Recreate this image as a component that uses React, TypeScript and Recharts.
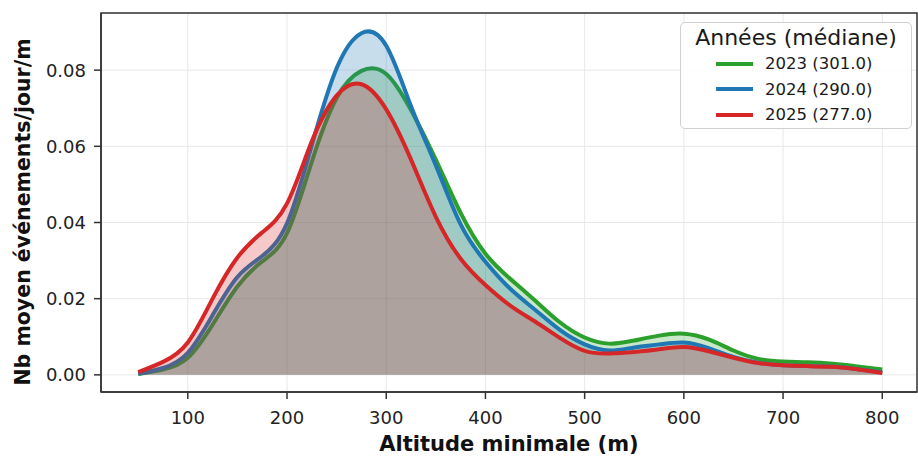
import { ComposedChart, Area, XAxis, YAxis, CartesianGrid, Legend, ReferenceArea, Label } from "recharts";

const ALTITUDES = [50, 75, 100, 125, 150, 175, 200, 225, 250, 275, 300, 325, 350, 375, 400, 425, 450, 475, 500, 525, 550, 575, 600, 625, 650, 675, 700, 725, 750, 775, 800];

const V2023 = [0.0002, 0.0014, 0.0045, 0.0132, 0.0232, 0.0298, 0.0372, 0.056, 0.0727, 0.0798, 0.079, 0.0695, 0.0565, 0.0425, 0.0318, 0.0252, 0.0195, 0.0138, 0.0098, 0.0082, 0.009, 0.0103, 0.0108, 0.0093, 0.0064, 0.0042, 0.0035, 0.0033, 0.0029, 0.0022, 0.0014];
const V2024 = [0.0003, 0.0018, 0.0058, 0.0157, 0.0257, 0.0312, 0.0398, 0.0603, 0.0805, 0.0897, 0.0864, 0.0705, 0.055, 0.0395, 0.0297, 0.0226, 0.0171, 0.0118, 0.008, 0.0064, 0.0072, 0.008, 0.0085, 0.007, 0.0047, 0.0032, 0.0025, 0.0023, 0.0021, 0.0015, 0.0007];
const V2025 = [0.0007, 0.0034, 0.0085, 0.02, 0.0308, 0.0374, 0.045, 0.0613, 0.0733, 0.0763, 0.0697, 0.0565, 0.0415, 0.0305, 0.0236, 0.0182, 0.014, 0.0097, 0.0063, 0.0056, 0.006, 0.0067, 0.0073, 0.0062, 0.0045, 0.0031, 0.0025, 0.0023, 0.0021, 0.0015, 0.0005];

const SERIES_NAMES = ["2023 (301.0)", "2024 (290.0)", "2025 (277.0)"];
const X_TICKS = [100, 200, 300, 400, 500, 600, 700, 800];
const Y_TICKS = [0, 0.02, 0.04, 0.06, 0.08];

const FONT = "'DejaVu Sans', sans-serif";
const X_DOMAIN: [number, number] = [12.5, 835];
const Y_DOMAIN: [number, number] = [-0.0045, 0.095];

const data = ALTITUDES.map((alt, i) => ({
  alt,
  y2023: V2023[i],
  y2024: V2024[i],
  y2025: V2025[i],
}));

function LegendBox({ payload }: any) {
  return (
    <div
      style={{
        border: "1px solid #d0d0d0",
        borderRadius: 5,
        background: "rgba(255,255,255,0.85)",
        fontFamily: FONT,
        color: "#1a1a1a",
      }}
    >
      <div style={{ height: 28, lineHeight: "30px", fontSize: 22, textAlign: "center", whiteSpace: "nowrap" }}>
        Années (médiane)
      </div>
      {(payload || []).map((p: any) => (
        <div key={p.value} style={{ height: 25.5, display: "flex", alignItems: "center" }}>
          <div style={{ width: 37, height: 4, background: p.color, marginLeft: 35 }} />
          <span style={{ fontSize: 16.5, marginLeft: 12, whiteSpace: "nowrap" }}>{p.value}</span>
        </div>
      ))}
    </div>
  );
}

export default function App() {
  return (
    <div style={{ position: "absolute", left: 0, top: 0, background: "#fff" }}>
      <ComposedChart width={918} height={457} data={data} margin={{ top: 13, right: 1, bottom: 0, left: 0 }}>
        <CartesianGrid stroke="#e8e8e8" strokeWidth={1} />
        <XAxis
          dataKey="alt"
          type="number"
          domain={X_DOMAIN}
          ticks={X_TICKS}
          allowDataOverflow
          height={65}
          tickSize={7}
          tickMargin={12}
          stroke="#333"
          strokeWidth={1.5}
          tick={{ fontSize: 18, fill: "#222", fontFamily: FONT }}
        >
          <Label
            content={({ viewBox }: any) => (
              <text
                x={viewBox.x + viewBox.width / 2}
                y={viewBox.y + 59}
                textAnchor="middle"
                fontFamily={FONT}
                fontWeight="bold"
                fontSize={21}
                fill="#111"
              >
                Altitude minimale (m)
              </text>
            )}
          />
        </XAxis>
        <YAxis
          type="number"
          domain={Y_DOMAIN}
          ticks={Y_TICKS}
          allowDataOverflow
          width={101}
          tickSize={7}
          tickMargin={8}
          stroke="#333"
          strokeWidth={1.5}
          tickFormatter={(v: number) => v.toFixed(2)}
          tick={{ fontSize: 18, fill: "#222", fontFamily: FONT }}
        >
          <Label
            content={() => (
              <text
                x={30}
                y={212}
                transform="rotate(-90 30 212)"
                textAnchor="middle"
                fontFamily={FONT}
                fontWeight="bold"
                fontSize={20.5}
                fill="#111"
              >
                Nb moyen événements/jour/m
              </text>
            )}
          />
        </YAxis>
        <Area
          type="natural"
          dataKey="y2023"
          name={SERIES_NAMES[0]}
          stroke="#2ca02c"
          strokeWidth={4}
          fill="#2ca02c"
          fillOpacity={0.25}
          baseValue={0}
          dot={false}
          activeDot={false}
          isAnimationActive={false}
        />
        <Area
          type="natural"
          dataKey="y2024"
          name={SERIES_NAMES[1]}
          stroke="#1f77b4"
          strokeWidth={4}
          fill="#1f77b4"
          fillOpacity={0.25}
          baseValue={0}
          dot={false}
          activeDot={false}
          isAnimationActive={false}
        />
        <Area
          type="natural"
          dataKey="y2025"
          name={SERIES_NAMES[2]}
          stroke="#d62728"
          strokeWidth={4}
          fill="#d62728"
          fillOpacity={0.25}
          baseValue={0}
          dot={false}
          activeDot={false}
          isAnimationActive={false}
        />
        <ReferenceArea
          x1={X_DOMAIN[0]}
          x2={X_DOMAIN[1]}
          y1={Y_DOMAIN[0]}
          y2={Y_DOMAIN[1]}
          fill="none"
          stroke="#333"
          strokeWidth={1.5}
          ifOverflow="visible"
        />
        <Legend
          layout="horizontal"
          verticalAlign="middle"
          align="center"
          wrapperStyle={{ top: 22, left: 680, width: 232, height: "auto" }}
          content={(props: any) => <LegendBox {...props} />}
        />
      </ComposedChart>
    </div>
  );
}
